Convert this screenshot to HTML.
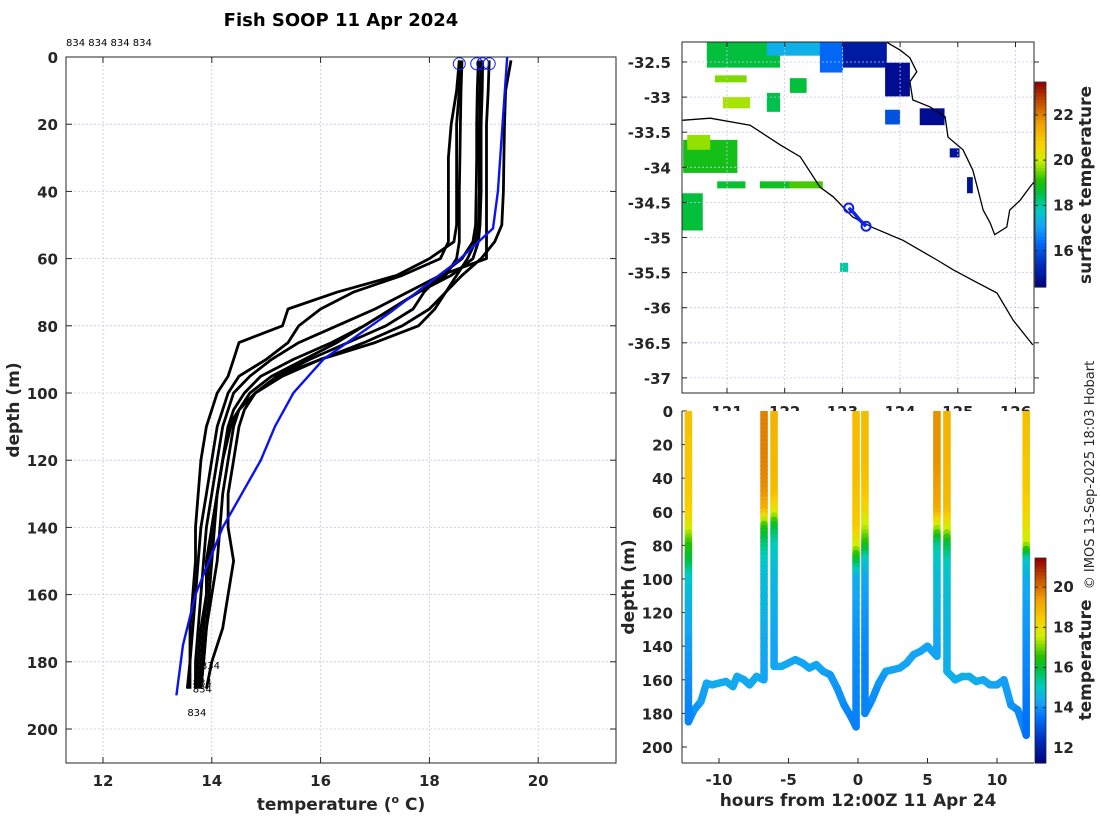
<!DOCTYPE html>
<html><head><meta charset="utf-8">
<style>
html,body{margin:0;padding:0;background:#fff;}
svg{display:block;font-family:"DejaVu Sans","Liberation Sans",sans-serif;}
.tk{font-size:15px;font-weight:bold;fill:#262626;}
.lb{font-size:17px;font-weight:bold;fill:#262626;}
</style></head>
<body>
<svg id="fig" width="1100" height="820" viewBox="0 0 1100 820" xmlns="http://www.w3.org/2000/svg">
<defs>
<clipPath id="clipL"><rect x="66" y="57" width="550" height="706"/></clipPath>
<clipPath id="clipM"><rect x="682" y="42" width="352" height="351"/></clipPath>
<clipPath id="clipB"><rect x="682" y="411" width="352" height="352"/></clipPath>
</defs>
<text x="341" y="26" text-anchor="middle" font-size="18" font-weight="bold" fill="#000">Fish SOOP 11 Apr 2024</text>
<text x="66" y="46" font-size="10" fill="#000">834 834 834 834</text>
<g id="gL"></g>
<g id="gM"></g>
<g id="gB"></g>
<text transform="translate(1094,475) rotate(-90)" text-anchor="middle" font-size="13" fill="#262626">© IMOS 13-Sep-2025 18:03 Hobart</text>
</svg>
<script>
// ---------- Left: temperature profiles ----------
const profDepths = [1,10,20,30,40,50,55,60,65,70,75,80,85,90,95,100,105,110,120,130,140,150,160,170,180,188];
const profA = [18.55,18.55,18.5,18.5,18.5,18.5,18.45,18.0,17.4,16.3,15.4,15.3,14.5,14.4,14.3,14.1,14.0,13.9,13.8,13.75,13.7,13.7,13.65,13.6,13.6,13.55];
const profB = [18.55,18.5,18.4,18.35,18.35,18.35,18.35,18.2,17.5,16.6,16.0,15.6,15.4,15.0,14.5,14.3,14.2,14.1,14.0,13.9,13.8,13.75,13.7,13.65,13.6,13.6];
const profC = [18.9,18.88,18.87,18.87,18.86,18.85,18.8,18.6,18.2,17.6,17.0,16.3,15.6,15.1,14.7,14.4,14.3,14.2,14.1,14.0,13.9,13.85,13.8,13.75,13.7,13.7];
const profD = [18.98,18.97,18.95,18.95,18.95,18.93,18.9,18.8,18.4,17.8,17.3,16.8,16.2,15.5,14.9,14.6,14.4,14.3,14.2,14.1,14.05,14.0,13.95,13.9,13.85,13.8];
const profE = [19.1,19.08,19.05,19.05,19.05,19.05,19.05,19.05,18.2,17.9,17.7,17.2,16.5,15.8,15.2,14.8,14.6,14.5,14.4,14.3,14.3,14.4,14.3,14.2,14.0,13.9];
const profF = [19.5,19.4,19.38,19.37,19.36,19.33,19.2,18.95,18.6,18.3,18.0,17.5,16.8,16.0,15.3,14.8,14.5,14.4,14.3,14.2,14.15,14.1,14.0,13.9,13.85,13.8];
const profG = [18.6,18.58,18.57,18.56,18.55,18.55,18.55,18.5,18.3,17.8,17.3,16.8,16.3,15.7,15.1,14.7,14.5,14.3,14.2,14.1,14.0,13.9,13.9,13.8,13.75,13.7];
const profH = [18.95,18.93,18.92,18.92,18.92,18.9,18.85,18.7,18.5,18.3,18.1,17.8,17.0,16.0,15.2,14.8,14.5,14.35,14.2,14.1,14.0,13.95,13.9,13.85,13.8,13.75];
const climDepths = [0,40,51,61,76,90,100,110,120,140,160,175,190];
const climTemps = [19.43,19.26,19.17,18.5,17.28,16.05,15.5,15.16,14.9,14.2,13.7,13.47,13.35];
const surfTemps = [18.55,18.87,18.98,19.1];
const labelTemps = [13.8,13.65,13.65,13.55];
const labelDepths = [181,186,188,195];
const tempTicks = [12,14,16,18,20];
const depthTicksL = [0,20,40,60,80,100,120,140,160,180,200];

// ---------- Map ----------
const lonTicks = [121,122,123,124,125,126];
const latTicks = [-32.5,-33,-33.5,-34,-34.5,-35,-35.5,-36,-36.5,-37];
const patchLon = [120.65,121.69,122.61,123.01,123.74,124.34,123.74,120.79,120.93,122.09,121.69,120.24,120.31,120.83,121.57,122.09,120.22,124.86,125.16,122.96];
const patchLat = [-32.22,-32.22,-32.22,-32.22,-32.51,-33.16,-33.18,-32.69,-33.0,-32.73,-32.94,-33.61,-33.54,-34.2,-34.2,-34.2,-34.37,-33.73,-34.14,-35.36];
const patchW = [1.27,1.04,0.40,0.76,0.43,0.43,0.26,0.55,0.47,0.29,0.23,0.94,0.40,0.49,0.52,0.57,0.36,0.17,0.10,0.14];
const patchH = [0.36,0.19,0.43,0.36,0.48,0.24,0.21,0.10,0.16,0.21,0.27,0.47,0.21,0.10,0.10,0.10,0.53,0.13,0.23,0.13];
const patchSST = [18.6,17.3,16.3,15.0,14.7,14.7,16.0,19.6,19.8,18.6,18.5,18.9,19.7,18.7,18.8,19.3,18.6,14.8,14.8,18.0];
const contourLon = [120.22,120.71,121.40,121.92,122.27,122.61,122.84,123.18,123.53,124.05,124.64,124.92,125.26,125.68,125.96,126.30];
const contourLat = [-33.33,-33.30,-33.40,-33.68,-33.85,-34.28,-34.42,-34.71,-34.86,-35.04,-35.32,-35.46,-35.61,-35.79,-36.18,-36.53];
const coastLon = [123.77,124.0,124.17,124.29,124.17,124.22,124.52,124.78,124.83,125.09,125.26,125.35,125.44,125.56,125.64,125.85,125.90,126.08,126.25,126.32];
const coastLat = [-32.22,-32.33,-32.44,-32.64,-32.78,-33.04,-33.14,-33.28,-33.57,-33.75,-34.04,-34.32,-34.61,-34.79,-34.96,-34.85,-34.61,-34.47,-34.28,-34.21];
const trackLon = [123.11,123.2,123.3,123.41];
const trackLat = [-34.58,-34.65,-34.75,-34.84];
const sstTicks = [16,18,20,22];

// ---------- Bottom: section ----------
const castTimes = [-12.2,-6.76,-6.04,-0.14,0.5,5.68,6.4,12.1];
const castMax = [185,160,152,188,180,146,155,193];
const castDepths = [0,10,20,30,40,50,60,70,80,90,100,120,140,160,180,195];
const cast1 = [18.7,18.7,18.6,18.6,18.6,18.5,18.4,17.8,16.6,16.0,15.0,14.5,14.2,14.0,13.8,13.8];
const cast2 = [19.8,19.8,19.8,19.8,19.7,19.6,19.0,16.5,15.6,15.0,14.8,14.6,14.4,14.3,14.2,14.2];
const cast3 = [19.0,19.0,18.9,18.9,18.9,18.8,18.0,16.0,15.2,14.9,14.7,14.5,14.3,14.3,14.3,14.3];
const cast4 = [18.8,18.8,18.8,18.8,18.8,18.7,18.6,18.5,17.8,16.0,14.5,14.2,14.0,13.9,13.8,13.7];
const cast5 = [18.8,18.8,18.8,18.8,18.7,18.6,18.2,17.5,16.5,15.0,14.4,14.1,13.9,13.8,13.8,13.8];
const cast6 = [19.6,19.6,19.6,19.6,19.5,19.4,19.2,17.5,15.5,15.0,14.8,14.6,14.3,14.3,14.3,14.3];
const cast7 = [19.0,19.0,19.0,19.0,18.9,18.9,18.8,17.8,16.0,15.2,14.9,14.7,14.6,14.5,14.5,14.5];
const cast8 = [18.8,18.7,18.7,18.6,18.6,18.5,18.3,18.0,17.5,15.0,14.5,14.2,14.0,13.8,13.6,13.5];
const trackT = [-12.2,-11.8,-11.3,-10.9,-10.5,-10,-9.5,-9,-8.7,-8.2,-7.8,-7.3,-6.8, -6.04,-5.5,-5,-4.5,-4,-3.5,-3,-2.5,-2,-1.5,-1,-0.5,-0.14, 0.5,1,1.5,2,2.5,3,3.5,4,4.5,5,5.68, 6.4,7,7.5,8,8.5,9,9.5,10,10.5,11,11.5,12.1];
const trackD = [185,178,173,162,163,162,161,164,158,160,163,158,160, 152,152,150,148,150,153,151,155,157,165,175,182,188, 180,172,162,155,154,153,150,145,143,140,146, 155,160,158,158,161,160,163,163,160,175,178,193];
const trackTemp = [13.9,14.0,14.1,14.4,14.4,14.4,14.5,14.4,14.4,14.4,14.4,14.4,14.4, 14.6,14.5,14.4,14.3,14.3,14.3,14.3,14.3,14.2,14.1,14.0,13.8,13.7, 13.8,13.9,14.1,14.2,14.3,14.3,14.3,14.3,14.3,14.3,14.3, 14.6,14.5,14.5,14.5,14.5,14.4,14.4,14.3,14.3,14.1,14.0,13.8];
const trackSeg = [0,0,0,0,0,0,0,0,0,0,0,0,0, 1,1,1,1,1,1,1,1,1,1,1,1,1, 2,2,2,2,2,2,2,2,2,2,2, 3,3,3,3,3,3,3,3,3,3,3,3];
const hourTicks = [-10,-5,0,5,10];
const depthTicksB = [0,20,40,60,80,100,120,140,160,180,200];
const tempCbTicks = [12,14,16,18,20];

const NS = "http://www.w3.org/2000/svg";
function mk(parent, tag, attrs, txt){
  const e = document.createElementNS(NS, tag);
  for (const k in attrs) e.setAttribute(k, attrs[k]);
  if (txt !== undefined) e.textContent = txt;
  parent.appendChild(e);
  return e;
}
const cmStops = [[0,[0,0,128]],[0.12,[0,48,192]],[0.22,[0,110,250]],[0.3,[20,165,245]],[0.38,[0,205,190]],[0.46,[0,192,64]],[0.52,[32,192,0]],[0.62,[208,240,0]],[0.7,[248,208,0]],[0.8,[240,160,0]],[0.88,[208,96,0]],[1,[144,0,0]]];
function cmap(v){
  v = Math.max(0, Math.min(1, v));
  for (let i = 1; i < cmStops.length; i++){
    if (v <= cmStops[i][0]){
      const a = cmStops[i-1], b = cmStops[i];
      const f = (v - a[0]) / (b[0] - a[0]);
      const c = a[1].map((x, j) => Math.round(x + (b[1][j] - x) * f));
      return "rgb(" + c.join(",") + ")";
    }
  }
  return "rgb(144,0,0)";
}
const gridStyle = {stroke:"#c4c8ec","stroke-width":0.8,"stroke-dasharray":"2,2"};

// ================= LEFT PLOT =================
const gL = document.getElementById("gL");
const L = {x0:66,x1:616,y0:57,y1:763};
const xT = t => 103 + (t - 12) * 54.4;
const yDL = d => 57 + d * 3.36;
mk(gL,"rect",{x:L.x0,y:L.y0,width:L.x1-L.x0,height:L.y1-L.y0,fill:"#fff"});
tempTicks.forEach(t => {
  const x = xT(t);
  const gl = mk(gL,"line",Object.assign({x1:x,x2:x,y1:L.y0,y2:L.y1},gridStyle));
  
  
  mk(gL,"line",{x1:x,x2:x,y1:L.y1,y2:L.y1-6,stroke:"#262626"});
  mk(gL,"line",{x1:x,x2:x,y1:L.y0,y2:L.y0+6,stroke:"#262626"});
  const tl = mk(gL,"text",{x:x,y:L.y1+23,"text-anchor":"middle",class:"tk"},String(t));
  
  
});
depthTicksL.forEach(d => {
  const y = yDL(d);
  const gl = mk(gL,"line",Object.assign({x1:L.x0,x2:L.x1,y1:y,y2:y},gridStyle));
  
  
  mk(gL,"line",{x1:L.x0,x2:L.x0+6,y1:y,y2:y,stroke:"#262626"});
  mk(gL,"line",{x1:L.x1,x2:L.x1-6,y1:y,y2:y,stroke:"#262626"});
  const tl = mk(gL,"text",{x:L.x0-8,y:y+6,"text-anchor":"end",class:"tk"},String(d));
  
  
});
const gLc = mk(gL,"g",{"clip-path":"url(#clipL)"});
const profs = [profA,profB,profC,profD,profE,profF,profG,profH];
profs.forEach((p, i) => {
  const pts = p.map((t, j) => xT(t).toFixed(1) + "," + yDL(profDepths[j]).toFixed(1)).join(" ");
  const pl = mk(gLc,"polyline",{points:pts,fill:"none",stroke:"#000","stroke-width":2.8,"stroke-linejoin":"round"});
  
  
});
{
  const pts = climTemps.map((t, j) => xT(t).toFixed(1) + "," + yDL(climDepths[j]).toFixed(1)).join(" ");
  const cl = mk(gLc,"polyline",{points:pts,fill:"none",stroke:"#0a14ee","stroke-width":2.4});
  
  
}
surfTemps.forEach(t => {
  const c = mk(gLc,"circle",{cx:xT(t),cy:yDL(2),r:6,fill:"none",stroke:"#1020ee","stroke-width":1});
  
  
});
labelTemps.forEach((t, i) => {
  const tx = mk(gLc,"text",{x:xT(t),y:yDL(labelDepths[i])+4,"font-size":10,fill:"#000"},"834");
  
  
});
{
  const fr = mk(gL,"rect",{x:L.x0,y:L.y0,width:L.x1-L.x0,height:L.y1-L.y0,fill:"none",stroke:"#262626","stroke-width":1});
  
  
  const yl = mk(gL,"text",{transform:"translate(19,410) rotate(-90)","text-anchor":"middle",class:"lb"},"depth (m)");
  
  
  const xl = mk(gL,"text",{x:341,y:810,"text-anchor":"middle",class:"lb"});
  
  
  mk(xl,"tspan",{},"temperature (");
  mk(xl,"tspan",{"font-size":11,dy:-7},"o");
  mk(xl,"tspan",{dy:7}," C)");
}

// ================= MAP =================
const gM = document.getElementById("gM");
const M = {x0:682,x1:1034,y0:42,y1:393};
const xLon = lo => 727 + (lo - 121) * 57.7;
const yLat = la => 62 - (la + 32.5) * 70.2;
const sstMin = 14.4, sstMax = 23.45;
mk(gM,"rect",{x:M.x0,y:M.y0,width:M.x1-M.x0,height:M.y1-M.y0,fill:"#fff"});
const gMc = mk(gM,"g",{"clip-path":"url(#clipM)"});
patchLon.forEach((lo, i) => {
  const r = mk(gMc,"rect",{x:xLon(lo),y:yLat(patchLat[i]),width:patchW[i]*57.7,height:patchH[i]*70.2,fill:cmap((patchSST[i]-sstMin)/(sstMax-sstMin))});
  
  
});
lonTicks.forEach(lo => {
  const x = xLon(lo);
  mk(gMc,"line",Object.assign({x1:x,x2:x,y1:M.y0,y2:M.y1},gridStyle));
  mk(gM,"line",{x1:x,x2:x,y1:M.y1,y2:M.y1-5,stroke:"#262626"});
  mk(gM,"line",{x1:x,x2:x,y1:M.y0,y2:M.y0+5,stroke:"#262626"});
  const tl = mk(gM,"text",{x:x,y:M.y1+24,"text-anchor":"middle",class:"tk"},String(lo));
  
  
});
latTicks.forEach(la => {
  const y = yLat(la);
  mk(gMc,"line",Object.assign({x1:M.x0,x2:M.x1,y1:y,y2:y},gridStyle));
  mk(gM,"line",{x1:M.x0,x2:M.x0+5,y1:y,y2:y,stroke:"#262626"});
  mk(gM,"line",{x1:M.x1,x2:M.x1+5,y1:y,y2:y,stroke:"#262626"});
  const tl = mk(gM,"text",{x:M.x0-11,y:y+6,"text-anchor":"end",class:"tk"},String(la));
  
  
});
{
  const c1 = mk(gMc,"polyline",{points:contourLon.map((lo,i)=>xLon(lo).toFixed(1)+","+yLat(contourLat[i]).toFixed(1)).join(" "),fill:"none",stroke:"#000","stroke-width":1.3});
  
  
  const c2 = mk(gMc,"polyline",{points:coastLon.map((lo,i)=>xLon(lo).toFixed(1)+","+yLat(coastLat[i]).toFixed(1)).join(" "),fill:"none",stroke:"#000","stroke-width":1.3});
  
  
  const tr = mk(gMc,"polyline",{points:trackLon.map((lo,i)=>xLon(lo).toFixed(1)+","+yLat(trackLat[i]).toFixed(1)).join(" "),fill:"none",stroke:"#1020ee","stroke-width":3.5});
  
  
  trackLon.forEach((lo, i) => {
    if (i === 0 || i === trackLon.length - 1) {
      const c = mk(gMc,"circle",{cx:xLon(lo),cy:yLat(trackLat[i]),r:4.5,fill:"none",stroke:"#1020ee","stroke-width":2});
      
      
    }
  });
  const fr = mk(gM,"rect",{x:M.x0,y:M.y0,width:M.x1-M.x0,height:M.y1-M.y0,fill:"none",stroke:"#262626"});
  
  
}
function colorbar(g, x, y0, y1, vmin, vmax, ticks, label, name, lx, ly){
  const n = 60, h = (y1 - y0) / n;
  for (let i = 0; i < n; i++){
    const v = (i + 0.5) / n;
    mk(g,"rect",{x:x,y:y1-(i+1)*h,width:11,height:h+0.6,fill:cmap(v)});
  }
  const fr = mk(g,"rect",{x:x,y:y0,width:11,height:y1-y0,fill:"none",stroke:"#262626","stroke-width":0.8});
  
  
  ticks.forEach(t => {
    const y = y1 - (t - vmin) / (vmax - vmin) * (y1 - y0);
    mk(g,"line",{x1:x,x2:x+3,y1:y,y2:y,stroke:"#262626"});
    mk(g,"line",{x1:x+11,x2:x+8,y1:y,y2:y,stroke:"#262626"});
    const tl = mk(g,"text",{x:x+18,y:y+5,class:"tk"},String(t));
    
    
  });
  const lb = mk(g,"text",{transform:"translate("+lx+","+ly+") rotate(-90)","text-anchor":"middle",class:"lb"},label);
  
  
}
colorbar(gM, 1035, 82, 287, sstMin, sstMax, sstTicks, "surface temperature", "sst-colorbar", 1091, 185);

// ================= BOTTOM SECTION =================
const gB = document.getElementById("gB");
const B = {x0:682,x1:1034,y0:411,y1:763};
const xH = h => 858 + h * 13.9;
const yDB = d => 411 + d * 1.68;
const tMin = 11.25, tMax = 21.45;
mk(gB,"rect",{x:B.x0,y:B.y0,width:B.x1-B.x0,height:B.y1-B.y0,fill:"#fff"});
hourTicks.forEach(h => {
  const x = xH(h);
  mk(gB,"line",{x1:x,x2:x,y1:B.y1,y2:B.y1-5,stroke:"#262626"});
  const tl = mk(gB,"text",{x:x,y:B.y1+22,"text-anchor":"middle",class:"tk"},String(h));
  
  
});
depthTicksB.forEach(d => {
  const y = yDB(d);
  mk(gB,"line",{x1:B.x0,x2:B.x0+5,y1:y,y2:y,stroke:"#262626"});
  const tl = mk(gB,"text",{x:B.x0-9,y:y+6,"text-anchor":"end",class:"tk"},String(d));
  
  
});
const gBc = mk(gB,"g",{"clip-path":"url(#clipB)"});
function seg(x1,y1,x2,y2,col){
  return mk(gBc,"line",{x1:x1,y1:y1,x2:x2,y2:y2,stroke:col,"stroke-width":7.5,"stroke-linecap":"round"});
}
const casts = [cast1,cast2,cast3,cast4,cast5,cast6,cast7,cast8];
for (let i = 1; i < trackT.length; i++){
  if (trackSeg[i] !== trackSeg[i-1]) continue;
  const l = seg(xH(trackT[i-1]),yDB(trackD[i-1]),xH(trackT[i]),yDB(trackD[i]),cmap(((trackTemp[i]+trackTemp[i-1])/2-tMin)/(tMax-tMin)));
  
  
}
casts.forEach((c, k) => {
  const x = xH(castTimes[k]);
  for (let j = 1; j < castDepths.length; j++){
    const da = castDepths[j-1];
    if (da >= castMax[k]) break;
    const db = Math.min(castDepths[j], castMax[k]);
    const steps = 4;
    for (let s = 0; s < steps; s++){
      const f0 = s/steps, f1 = (s+1)/steps;
      const d0 = da + (db-da)*f0, d1 = da + (db-da)*f1;
      const tt = c[j-1] + (c[j]-c[j-1])*((f0+f1)/2)*((db-da)/(castDepths[j]-da));
      const l = seg(x,yDB(d0),x,yDB(d1),cmap((tt-tMin)/(tMax-tMin)));
      
      
    }
  }
});
{
  mk(gB,"line",{x1:B.x0,x2:B.x0,y1:B.y0,y2:B.y1,stroke:"#262626"});
  const ax = mk(gB,"line",{x1:B.x0,x2:B.x1,y1:B.y1,y2:B.y1,stroke:"#262626"});
  
  
  const yl = mk(gB,"text",{transform:"translate(634,587) rotate(-90)","text-anchor":"middle",class:"lb"},"depth (m)");
  
  
  const xl = mk(gB,"text",{x:858,y:806,"text-anchor":"middle",class:"lb"},"hours from 12:00Z 11 Apr 24");
  
  
}
colorbar(gB, 1035, 558, 763, tMin, tMax, tempCbTicks, "temperature", "temperature-colorbar", 1091, 660);
</script>
</body></html>
